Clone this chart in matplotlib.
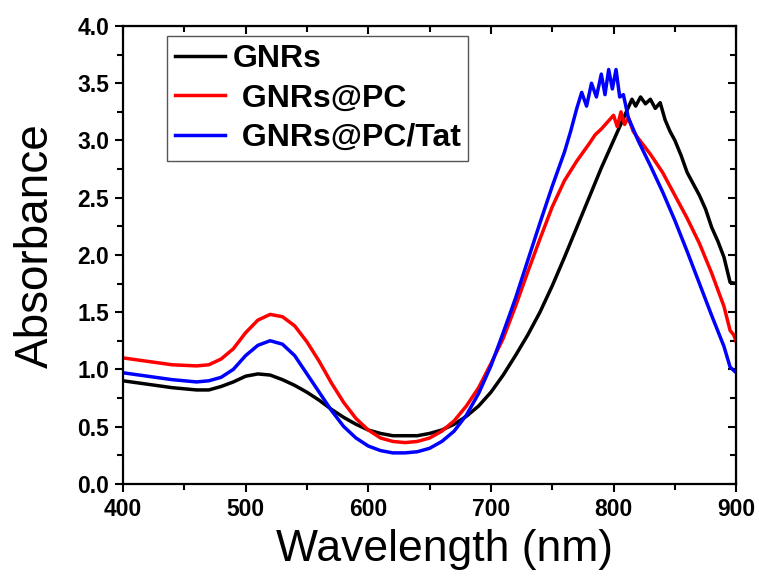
import matplotlib.pyplot as plt
from matplotlib.ticker import MultipleLocator

plt.rcParams['font.family'] = ['Liberation Sans', 'DejaVu Sans']

# wavelength (nm) / absorbance
wl_gnr = [400, 420, 440, 460, 470, 480, 490, 500, 510, 520, 530, 540, 550, 560, 570, 580,
          590, 600, 610, 620, 630, 640, 650, 660, 670, 680, 690, 700, 710, 720, 730, 740,
          750, 760, 770, 780, 790, 800, 805, 810, 815, 818, 822, 826, 830, 834, 838, 842,
          846, 850, 855, 860, 865, 870, 875, 880, 885, 890, 895, 900]
abs_gnr = [0.90, 0.87, 0.84, 0.82, 0.82, 0.85, 0.89, 0.94, 0.96, 0.95, 0.91, 0.86, 0.80, 0.73,
           0.65, 0.58, 0.52, 0.47, 0.44, 0.42, 0.42, 0.42, 0.44, 0.47, 0.52, 0.59, 0.68, 0.80,
           0.95, 1.12, 1.30, 1.50, 1.73, 1.98, 2.24, 2.50, 2.76, 3.00, 3.12, 3.24, 3.36, 3.30,
           3.38, 3.32, 3.36, 3.28, 3.33, 3.18, 3.08, 3.00, 2.87, 2.72, 2.62, 2.52, 2.40, 2.24,
           2.12, 1.98, 1.76, 1.75]

wl_pc = [400, 420, 440, 460, 470, 480, 490, 500, 510, 520, 530, 540, 550, 560, 570, 580,
         590, 600, 610, 620, 630, 640, 650, 660, 670, 680, 690, 700, 710, 720, 730, 740,
         750, 760, 770, 780, 785, 790, 795, 800, 803, 806, 809, 812, 816, 820, 830, 840,
         850, 860, 870, 880, 890, 895, 898, 900]
abs_pc = [1.10, 1.07, 1.04, 1.03, 1.04, 1.09, 1.18, 1.32, 1.43, 1.48, 1.46, 1.38, 1.24, 1.07,
          0.88, 0.71, 0.57, 0.47, 0.40, 0.37, 0.36, 0.37, 0.40, 0.46, 0.55, 0.68, 0.84, 1.05,
          1.27, 1.55, 1.85, 2.14, 2.42, 2.65, 2.82, 2.97, 3.05, 3.10, 3.16, 3.22, 3.12, 3.25,
          3.14, 3.20, 3.08, 3.02, 2.88, 2.72, 2.52, 2.32, 2.10, 1.84, 1.55, 1.34, 1.30, 1.24]

wl_tat = [400, 420, 440, 460, 470, 480, 490, 500, 510, 520, 530, 540, 550, 560, 570, 580,
          590, 600, 610, 620, 630, 640, 650, 660, 670, 680, 690, 700, 710, 720, 730, 740,
          750, 760, 765, 770, 774, 778, 782, 786, 790, 793, 796, 799, 802, 805, 808, 812,
          816, 820, 830, 840, 850, 860, 870, 880, 890, 895, 900]
abs_tat = [0.97, 0.94, 0.91, 0.89, 0.90, 0.93, 1.00, 1.12, 1.21, 1.25, 1.22, 1.12, 0.96, 0.80,
           0.64, 0.50, 0.40, 0.33, 0.29, 0.27, 0.27, 0.28, 0.31, 0.37, 0.46, 0.60, 0.79, 1.03,
           1.32, 1.62, 1.95, 2.28, 2.60, 2.90, 3.08, 3.28, 3.42, 3.30, 3.50, 3.38, 3.58, 3.40,
           3.62, 3.45, 3.62, 3.38, 3.40, 3.20, 3.10, 3.00, 2.78, 2.55, 2.30, 2.03, 1.75, 1.47,
           1.20, 1.02, 0.97]

fig = plt.figure(figsize=(7.59, 5.78), dpi=100)
ax = fig.add_axes([0.162, 0.163, 0.808, 0.792])

ax.plot(wl_gnr, abs_gnr, color='black', lw=2.5, label='GNRs')
ax.plot(wl_pc, abs_pc, color='red', lw=2.5, label=' GNRs@PC')
ax.plot(wl_tat, abs_tat, color='blue', lw=2.5, label=' GNRs@PC/Tat')

ax.set_xlim(400, 900)
ax.set_ylim(0, 4.0)
ax.xaxis.set_major_locator(MultipleLocator(100))
ax.xaxis.set_minor_locator(MultipleLocator(50))
ax.yaxis.set_major_locator(MultipleLocator(0.5))
ax.yaxis.set_minor_locator(MultipleLocator(0.25))
ax.tick_params(which='both', direction='out', width=1.5, top=False, right=False)
ax.tick_params(which='major', length=6, labelsize=16.5, pad=4)
ax.tick_params(which='minor', length=4)
for lab in ax.get_xticklabels() + ax.get_yticklabels():
    lab.set_fontweight('bold')
for side in ax.spines.values():
    side.set_linewidth(1.6)

# inward ticks on the top and right spines
sec_x = ax.secondary_xaxis('top')
sec_x.xaxis.set_major_locator(MultipleLocator(100))
sec_x.xaxis.set_minor_locator(MultipleLocator(50))
sec_x.tick_params(which='both', direction='in', width=1.5, labeltop=False)
sec_x.tick_params(which='major', length=6)
sec_x.tick_params(which='minor', length=4)
sec_y = ax.secondary_yaxis('right')
sec_y.yaxis.set_major_locator(MultipleLocator(0.5))
sec_y.yaxis.set_minor_locator(MultipleLocator(0.25))
sec_y.tick_params(which='both', direction='in', width=1.5, labelright=False)
sec_y.tick_params(which='major', length=6)
sec_y.tick_params(which='minor', length=4)

ax.set_xlabel('Wavelength (nm)', fontsize=32, labelpad=6)
ax.xaxis.label.set_x(0.525)
ax.set_ylabel('Absorbance', fontsize=33, labelpad=14)
ax.yaxis.label.set_y(0.52)

leg = ax.legend(loc='upper left', bbox_to_anchor=(0.072, 0.978), fancybox=False,
                edgecolor='#555555', prop={'weight': 'bold', 'size': 23},
                handlelength=1.55, handletextpad=0.25, labelspacing=0.3,
                borderpad=0.25, borderaxespad=0, framealpha=1)
leg.get_frame().set_linewidth(1.0)

fig.savefig('out.png', dpi=100)
